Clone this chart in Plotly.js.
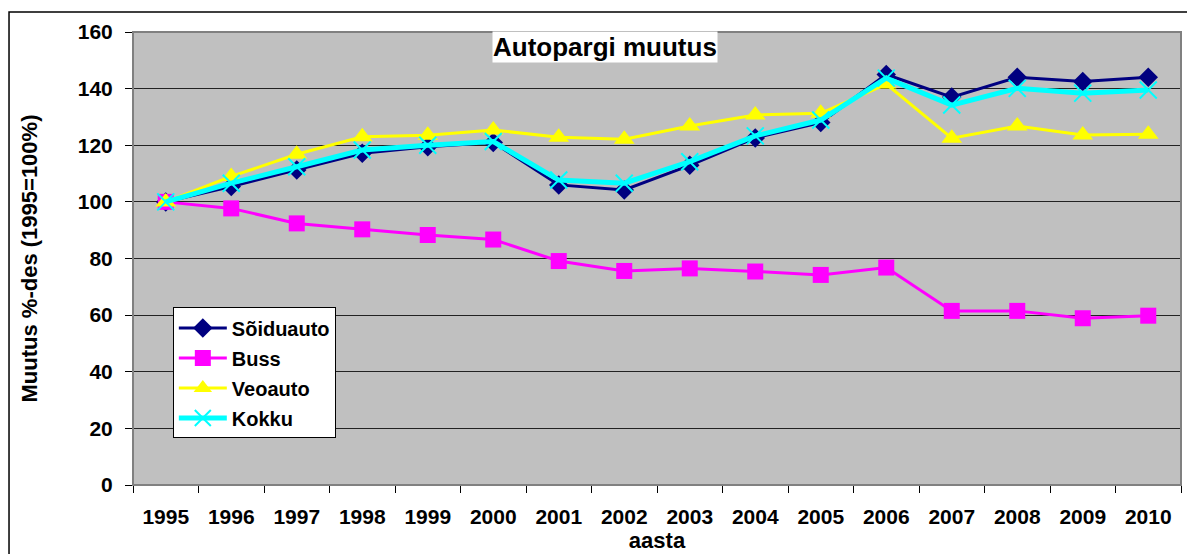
<!DOCTYPE html>
<html>
<head>
<meta charset="utf-8">
<script src="https://cdn.plot.ly/plotly-3.0.1.min.js"></script>
<style>html,body{margin:0;padding:0;background:#fff;}#chart{width:1187px;height:554px;}</style>
</head>
<body>
<div id="chart"></div>
<script>
var years = ["1995","1996","1997","1998","1999","2000","2001","2002","2003","2004","2005","2006","2007","2008","2009","2010"];
var soiduauto = [100, 105.4, 111.3, 117.2, 119.5, 121.0, 106.0, 104.2, 112.9, 122.6, 128.0, 145.0, 137.0, 144.0, 142.5, 144.0];
var buss      = [100, 97.7, 92.4, 90.3, 88.3, 86.7, 79.1, 75.6, 76.5, 75.4, 74.2, 76.8, 61.5, 61.5, 58.9, 59.8];
var veoauto   = [100, 109.0, 116.8, 123.0, 123.5, 125.4, 122.8, 122.1, 126.8, 130.7, 131.3, 141.6, 122.5, 126.8, 123.6, 123.9];
var kokku     = [100, 106.6, 112.4, 118.3, 120.0, 121.3, 107.7, 106.6, 114.2, 123.3, 128.9, 143.7, 134.2, 140.1, 138.4, 139.5];
var seriesNames = ["Sõiduauto", "Buss", "Veoauto", "Kokku"];
var yTicks = [0, 20, 40, 60, 80, 100, 120, 140, 160];

var FONT = "Liberation Sans, Arial, sans-serif";

var traces = [
  {x: years, y: soiduauto, name: seriesNames[0], legendgroup: "a", mode: "lines+markers", type: "scatter",
   line: {color: "#000080", width: 3}, marker: {symbol: "diamond", size: 15, color: "#000080"}},
  {x: years, y: buss, name: seriesNames[1], legendgroup: "b", mode: "lines+markers", type: "scatter",
   line: {color: "#FF00FF", width: 3}, marker: {symbol: "square", size: 16, color: "#FF00FF"}},
  {x: years, y: veoauto, name: seriesNames[2], legendgroup: "c", mode: "lines+markers", type: "scatter",
   line: {color: "#FFFF00", width: 3}, marker: {symbol: "triangle-up", size: 18, color: "#FFFF00"}},
  {x: years, y: kokku, name: seriesNames[3], legendgroup: "d", mode: "lines+markers", type: "scatter",
   line: {color: "#00FFFF", width: 5}, marker: {symbol: "x-thin", size: 17, color: "#00FFFF", line: {color: "#00FFFF", width: 2}}}
];

var layout = {
  width: 1187, height: 554,
  margin: {l: 133, r: 6, t: 32, b: 69},
  paper_bgcolor: "#FFFFFF",
  plot_bgcolor: "#C0C0C0",
  font: {family: FONT, color: "#000000", size: 20, weight: "bold"},
  showlegend: true,
  legend: {
    x: 0.038, y: 0.392, xanchor: "left", yanchor: "top",
    bgcolor: "#FFFFFF", bordercolor: "#000000", borderwidth: 1,
    font: {family: FONT, size: 20, color: "#000000", weight: "bold"},
    itemwidth: 48, traceorder: "grouped", tracegroupgap: 1
  },
  xaxis: {
    type: "category", categoryorder: "array", categoryarray: years,
    range: [-0.5, 15.5], tickson: "boundaries",
    ticks: "outside", ticklen: 7, tickcolor: "#000000", tickwidth: 1,
    showgrid: false, showline: true, linecolor: "#000000", linewidth: 1,
    tickfont: {family: FONT, size: 21, color: "#000000", weight: "bold"},
    ticklabelstandoff: 13,
    title: {text: "aasta", font: {family: FONT, size: 22, color: "#000000", weight: "bold"}, standoff: 0},
    fixedrange: true
  },
  yaxis: {
    range: [0, 160], tickmode: "array", tickvals: yTicks, ticktext: yTicks.map(String),
    ticks: "outside", ticklen: 7, tickcolor: "#000000", tickwidth: 1,
    showgrid: true, gridcolor: "#222222", gridwidth: 1, zeroline: false,
    showline: true, linecolor: "#000000", linewidth: 1,
    tickfont: {family: FONT, size: 21, color: "#000000", weight: "bold"},
    ticklabelstandoff: 8,
    title: {text: "Muutus %-des (1995=100%)", font: {family: FONT, size: 22, color: "#000000", weight: "bold"}, standoff: 34},
    fixedrange: true
  },
  shapes: [
    {type: "rect", xref: "paper", yref: "paper", x0: -0.1183, x1: 1.02, y0: -0.2, y1: 1.0442,
     line: {color: "#000000", width: 1.5}, fillcolor: "rgba(0,0,0,0)", layer: "below"},
    {type: "rect", xref: "paper", yref: "paper", x0: 0, x1: 1, y0: 0, y1: 1,
     line: {color: "#808080", width: 2}, fillcolor: "rgba(0,0,0,0)", layer: "above"}
  ],
  annotations: [
    {text: "Autopargi muutus", xref: "paper", yref: "paper", x: 0.4504, y: 0.967,
     xanchor: "center", yanchor: "middle", showarrow: false, bgcolor: "#FFFFFF", borderpad: 0,
     font: {family: FONT, size: 26, color: "#000000", weight: "bold"}}
  ]
};

Plotly.newPlot("chart", traces, layout, {displayModeBar: false, staticPlot: true});
</script>
</body>
</html>
